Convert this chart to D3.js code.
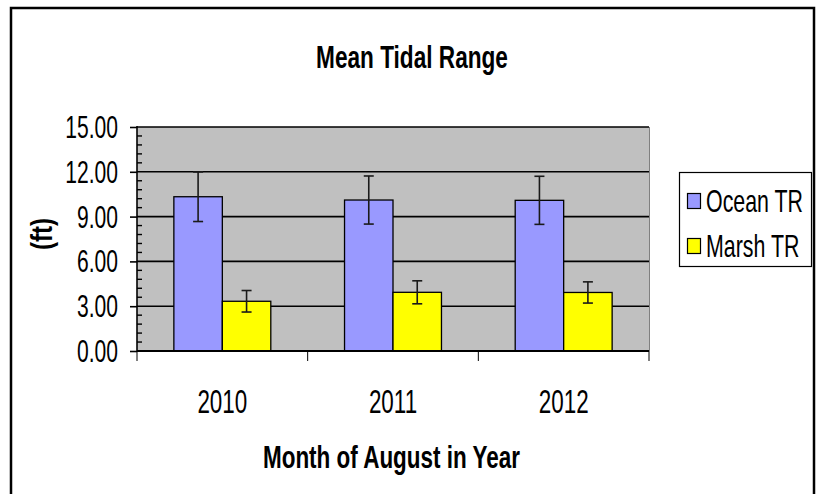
<!DOCTYPE html>
<html>
<head>
<meta charset="utf-8">
<script src="https://cdn.jsdelivr.net/npm/d3@7"></script>
<style>
  html, body { margin: 0; padding: 0; background: #fff; }
  svg { display: block; }
  text { font-family: "Liberation Sans", Arial, sans-serif; fill: #000; }
</style>
</head>
<body>
<svg id="chart" width="817" height="494"></svg>
<script>
// ---- data ----
const years = ["2010", "2011", "2012"];
const seriesNames = ["Ocean TR", "Marsh TR"];
const oceanTR = [10.33, 10.11, 10.09];
const marshTR = [3.33, 3.93, 3.92];
const oceanErr = [1.66, 1.61, 1.61];
const marshErr = [0.72, 0.77, 0.71];
const yTicks = [0, 3, 6, 9, 12, 15];
const chartTitle = "Mean Tidal Range";
const xTitle = "Month of August in Year";
const yTitle = "(ft)";

const colors = ["#9999FF", "#FFFF00"];
const values = [oceanTR, marshTR];
const errs = [oceanErr, marshErr];

const svg = d3.select("#chart");
const plot = { left: 137, right: 649, top: 127, bottom: 351 };

// outer chart border
svg.append("rect").attr("x", 11).attr("y", 8).attr("width", 803).attr("height", 500)
  .attr("fill", "#fff").attr("stroke", "#000").attr("stroke-width", 2.5);

const y = d3.scaleLinear().domain([0, 15]).range([plot.bottom, plot.top]);
const x = d3.scaleBand().domain(years).range([plot.left, plot.right])
  .paddingInner(0.432).paddingOuter(0.216);
const xs = d3.scaleBand().domain(seriesNames).range([0, x.bandwidth()]);

// plot area
svg.append("rect").attr("x", plot.left).attr("y", plot.top)
  .attr("width", plot.right - plot.left).attr("height", plot.bottom - plot.top)
  .attr("fill", "#C0C0C0");
svg.append("line").attr("x1", plot.right + 0.5).attr("x2", plot.right + 0.5)
  .attr("y1", plot.top).attr("y2", plot.bottom).attr("stroke", "#808080").attr("stroke-width", 1);

// gridlines
svg.append("g").selectAll("line").data(yTicks.filter(d => d > 0)).join("line")
  .attr("x1", plot.left).attr("x2", plot.right)
  .attr("y1", d => y(d)).attr("y2", d => y(d))
  .attr("stroke", "#000").attr("stroke-width", 1.6);

// bars
const cat = svg.append("g").selectAll("g").data(years).join("g")
  .attr("transform", d => `translate(${x(d)},0)`);
seriesNames.forEach((s, si) => {
  cat.append("rect")
    .attr("x", xs(s)).attr("width", xs.bandwidth())
    .attr("y", (d, i) => y(values[si][i]))
    .attr("height", (d, i) => y(0) - y(values[si][i]))
    .attr("fill", colors[si]).attr("stroke", "#000").attr("stroke-width", 1.3);
});

// error bars
seriesNames.forEach((s, si) => {
  const g = cat.append("g").attr("stroke", "#1a1a1a").attr("stroke-width", 1.6);
  const cx = xs(s) + xs.bandwidth() / 2;
  g.append("line").attr("x1", cx).attr("x2", cx)
    .attr("y1", (d, i) => y(values[si][i] + errs[si][i]))
    .attr("y2", (d, i) => y(values[si][i] - errs[si][i]));
  g.append("line").attr("x1", cx - 5).attr("x2", cx + 5)
    .attr("y1", (d, i) => y(values[si][i] + errs[si][i]))
    .attr("y2", (d, i) => y(values[si][i] + errs[si][i]));
  g.append("line").attr("x1", cx - 5).attr("x2", cx + 5)
    .attr("y1", (d, i) => y(values[si][i] - errs[si][i]))
    .attr("y2", (d, i) => y(values[si][i] - errs[si][i]));
});

// y axis
const yAxis = d3.axisLeft(y).tickValues(yTicks).tickFormat(d3.format(".2f"))
  .tickSize(7).tickPadding(0);
const yg = svg.append("g").attr("transform", `translate(${plot.left},0)`).call(yAxis);
yg.select(".domain").remove();
yg.selectAll(".tick line").attr("stroke", "#000").attr("stroke-width", 1.6);
yg.selectAll(".tick text").remove();
yg.append("line").attr("x1", 0).attr("x2", 0).attr("y1", plot.top - 1).attr("y2", plot.bottom + 1)
  .attr("stroke", "#000").attr("stroke-width", 1.6);
// minor ticks
const minor = d3.range(0, 15.001, 0.6).filter(v => Math.abs(v / 3 - Math.round(v / 3)) > 1e-6);
yg.append("g").selectAll("line").data(minor).join("line")
  .attr("x1", 0).attr("x2", 5).attr("y1", d => y(d)).attr("y2", d => y(d))
  .attr("stroke", "#000").attr("stroke-width", 1.4);
// tick labels
svg.append("g").selectAll("text").data(yTicks).join("text")
  .attr("transform", d => `translate(118,${y(d) + 11}) scale(0.68,1)`)
  .attr("text-anchor", "end").attr("font-size", 31)
  .text(d => d3.format(".2f")(d));

// x axis
svg.append("line").attr("x1", plot.left).attr("x2", plot.right)
  .attr("y1", plot.bottom).attr("y2", plot.bottom)
  .attr("stroke", "#000").attr("stroke-width", 2);
const bounds = [plot.left, ...years.slice(1).map(d => x(d) - x.step() * x.paddingInner() / 2), plot.right];
svg.append("g").selectAll("line").data(bounds).join("line")
  .attr("x1", d => d).attr("x2", d => d).attr("y1", plot.bottom).attr("y2", plot.bottom + 10)
  .attr("stroke", "#000").attr("stroke-width", 1);
svg.append("g").selectAll("text").data(years).join("text")
  .attr("transform", d => `translate(${x(d) + x.bandwidth() / 2},413) scale(0.68,1)`)
  .attr("text-anchor", "middle").attr("font-size", 33)
  .text(d => d);

// titles
svg.append("text").attr("transform", `translate(412,68) scale(0.73,1)`)
  .attr("text-anchor", "middle").attr("font-size", 31).attr("font-weight", "bold")
  .text(chartTitle);
svg.append("text").attr("transform", `translate(391.5,468) scale(0.725,1)`)
  .attr("text-anchor", "middle").attr("font-size", 31).attr("font-weight", "bold")
  .text(xTitle);
svg.append("text").attr("transform", `translate(52,234) rotate(-90) scale(0.8,1)`)
  .attr("text-anchor", "middle").attr("font-size", 30).attr("font-weight", "bold")
  .text(yTitle);

// legend
const lg = svg.append("g");
lg.append("rect").attr("x", 679.5).attr("y", 172.5).attr("width", 132).attr("height", 94)
  .attr("fill", "#fff").attr("stroke", "#000").attr("stroke-width", 1.2);
seriesNames.forEach((s, i) => {
  const yy = 201 + i * 45;
  lg.append("rect").attr("x", 687.5).attr("y", yy - 7.5).attr("width", 13).attr("height", 15)
    .attr("fill", colors[i]).attr("stroke", "#000").attr("stroke-width", 1.2);
  lg.append("text").attr("transform", `translate(706,${yy + 10.5}) scale(0.69,1)`)
    .attr("font-size", 31).text(s);
});
</script>
</body>
</html>
